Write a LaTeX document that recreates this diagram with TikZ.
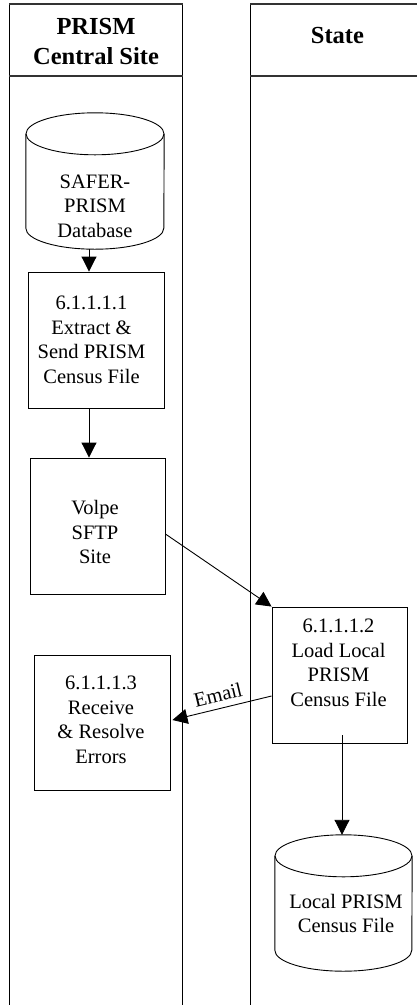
\documentclass[tikz,border=0pt]{standalone}
\usepackage{fontspec}
\setmainfont{Liberation Serif}
\usetikzlibrary{arrows.meta}
\newcommand\mycyl[3]{% node, x radius, y radius
  \draw[shapeline] ([yshift=-#3]#1.north west) -- ([yshift=#3]#1.south west)
    arc[start angle=180,end angle=360,x radius=#2,y radius=#3]
    -- ([yshift=-#3]#1.north east);
  \draw[shapeline] ([yshift=-#3]#1.north) ellipse[x radius=#2,y radius=#3];
}
\begin{document}
\begin{tikzpicture}[x=1pt,y=-1pt,
  lanev/.style={line width=0.8pt,black},
  laneh/.style={line width=1.4pt,black!80},
  shapeline/.style={line width=0.9pt,black},
  procbox/.style={draw,line width=0.9pt,minimum width=136pt,minimum height=136pt,inner sep=0pt},
  cylbox/.style={inner sep=0pt},
  txt/.style={align=center,inner sep=0pt,font=\fontsize{20.5}{24.5}\selectfont},
  head/.style={align=center,inner sep=0pt,font=\fontsize{24.5}{30}\selectfont\bfseries},
  flow/.style={line width=0.9pt,-{Triangle[width=15pt,length=15pt]}},
  lbl/.style={font=\fontsize{20.5}{24}\selectfont,inner sep=0pt}
]
\useasboundingbox (0,0) rectangle (417,1005);
% lanes
\draw[lanev] (9,1010) -- (9,4);
\draw[lanev] (182,1010) -- (182,4);
\draw[lanev] (250,1010) -- (250,4);
\draw[laneh] (9,4) -- (182.5,4);
\draw[laneh] (9,76) -- (183,76);
\draw[laneh] (250,4) -- (420,4);
\draw[laneh] (250,76) -- (420,76);
\node[head] (h1) at (96,42) {PRISM\\Central Site};
\node[head] (h2) at (337.5,36) {State};
% database
\node[cylbox,minimum width=138pt,minimum height=136pt] (db) at (95,181) {};
\mycyl{db}{69pt}{21pt}
\node[txt] (dbt) at (95,206) {SAFER-\\PRISM\\Database};
% boxes
\node[procbox] (b1) at (96,340) {};
\node[txt] (b1t) at (91.5,340) {6.1.1.1.1\\Extract \&\\Send PRISM\\Census File};
\node[procbox,minimum width=135pt] (b2) at (97.5,526) {};
\node[txt] (b2t) at (95,532) {Volpe\\SFTP\\Site};
\node[procbox,minimum width=135pt] (b3) at (339.5,675) {};
\node[txt] (b3t) at (338.5,663) {6.1.1.1.2\\Load Local\\PRISM\\Census File};
\node[procbox,minimum height=135pt] (b4) at (102,722.5) {};
\node[txt] (b4t) at (101,720) {6.1.1.1.3\\Receive\\\& Resolve\\Errors};
% local file
\node[cylbox,minimum width=137pt,minimum height=136pt] (c2) at (343.5,903) {};
\mycyl{c2}{68.5pt}{21pt}
\node[txt] (c2t) at (346,913.5) {Local PRISM\\Census File};
% connectors
\draw[flow] ([xshift=-6pt]db.south) -- ([xshift=-7pt]b1.north);
\draw[flow] ([xshift=-7pt]b1.south) -- ([xshift=-8.5pt]b2.north);
\draw[flow] ([yshift=-8pt]b2.east) -- (b3.north west);
\draw[flow] ([yshift=-21pt]b3.west) -- ([xshift=2pt,yshift=2.5pt]b4.east);
\node[lbl,rotate=13.6] (em) at (218,695) {Email};
\draw[flow] ([xshift=2.5pt,yshift=8pt]b3.south) -- ([xshift=-1.5pt]c2.north);
\end{tikzpicture}
\end{document}
